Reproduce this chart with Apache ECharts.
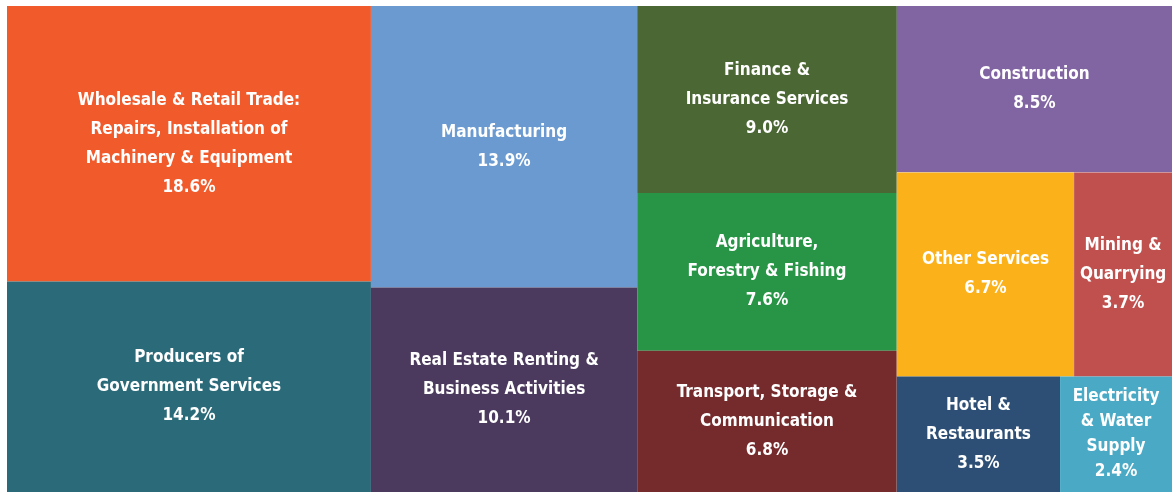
<!DOCTYPE html>
<html><head><meta charset="utf-8">
<script src="https://cdn.jsdelivr.net/npm/echarts@6/dist/echarts.min.js"></script>
<style>html,body{margin:0;padding:0;background:#fff}#c{width:1175px;height:493px}</style>
</head><body><div id="c"></div>
<script>
const names = [
  "Wholesale & Retail Trade:\nRepairs, Installation of\nMachinery & Equipment",
  "Producers of\nGovernment Services",
  "Manufacturing",
  "Real Estate Renting &\nBusiness Activities",
  "Finance &\nInsurance Services",
  "Construction",
  "Agriculture,\nForestry & Fishing",
  "Transport, Storage &\nCommunication",
  "Other Services",
  "Mining &\nQuarrying",
  "Hotel &\nRestaurants",
  "Electricity\n& Water\nSupply"
];
const values = [18.6, 14.2, 13.9, 10.1, 9.0, 8.5, 7.6, 6.8, 6.7, 3.7, 3.5, 2.4];
const colors = ["#F15A2B","#2A6A79","#6A9AD0","#4B3A5E","#4B6733","#8165A2","#279446","#752A2C","#FBB11A","#C0504E","#2D4F75","#4AAAC6"];
// grouping of items (indices into the arrays above) as in the original block layout
const groups = [[0, 1], [2, 3], [4, 6, 7], [5, [8, 9], [10, 11]]];

function leaf(i) {
  const d = { name: names[i], value: values[i], itemStyle: { color: colors[i] } };
  if (i === 11) d.label = { lineHeight: 25 };
  return d;
}
function build(g, k) {
  if (typeof g === 'number') return leaf(g);
  return { name: 'g' + k, children: g.map((x, j) => build(x, k + '_' + j)) };
}
const data = groups.map((g, k) => build(g, k));

const chart = echarts.init(document.getElementById('c'));
chart.setOption({
  series: [{
    type: 'treemap',
    left: 7, top: 6, right: 3, bottom: 1,
    roam: false, nodeClick: false,
    breadcrumb: { show: false },
    sort: false,
    squareRatio: 1,
    itemStyle: { borderWidth: 0, gapWidth: 0 },
    upperLabel: { show: false },
    label: {
      show: true, position: 'inside',
      align: 'center', verticalAlign: 'middle',
      color: '#fff', fontFamily: '"DejaVu Sans Condensed", sans-serif',
      fontWeight: 'bold', fontSize: 17, lineHeight: 29,
      overflow: 'none',
      formatter: p => p.name + '\n' + p.value.toFixed(1) + '%'
    },
    levels: [
      { itemStyle: { borderWidth: 0, gapWidth: 0 } },
      { itemStyle: { borderWidth: 0, gapWidth: 0 } },
      { itemStyle: { borderWidth: 0, gapWidth: 0 } }
    ],
    data: data
  }]
});
</script></body></html>
